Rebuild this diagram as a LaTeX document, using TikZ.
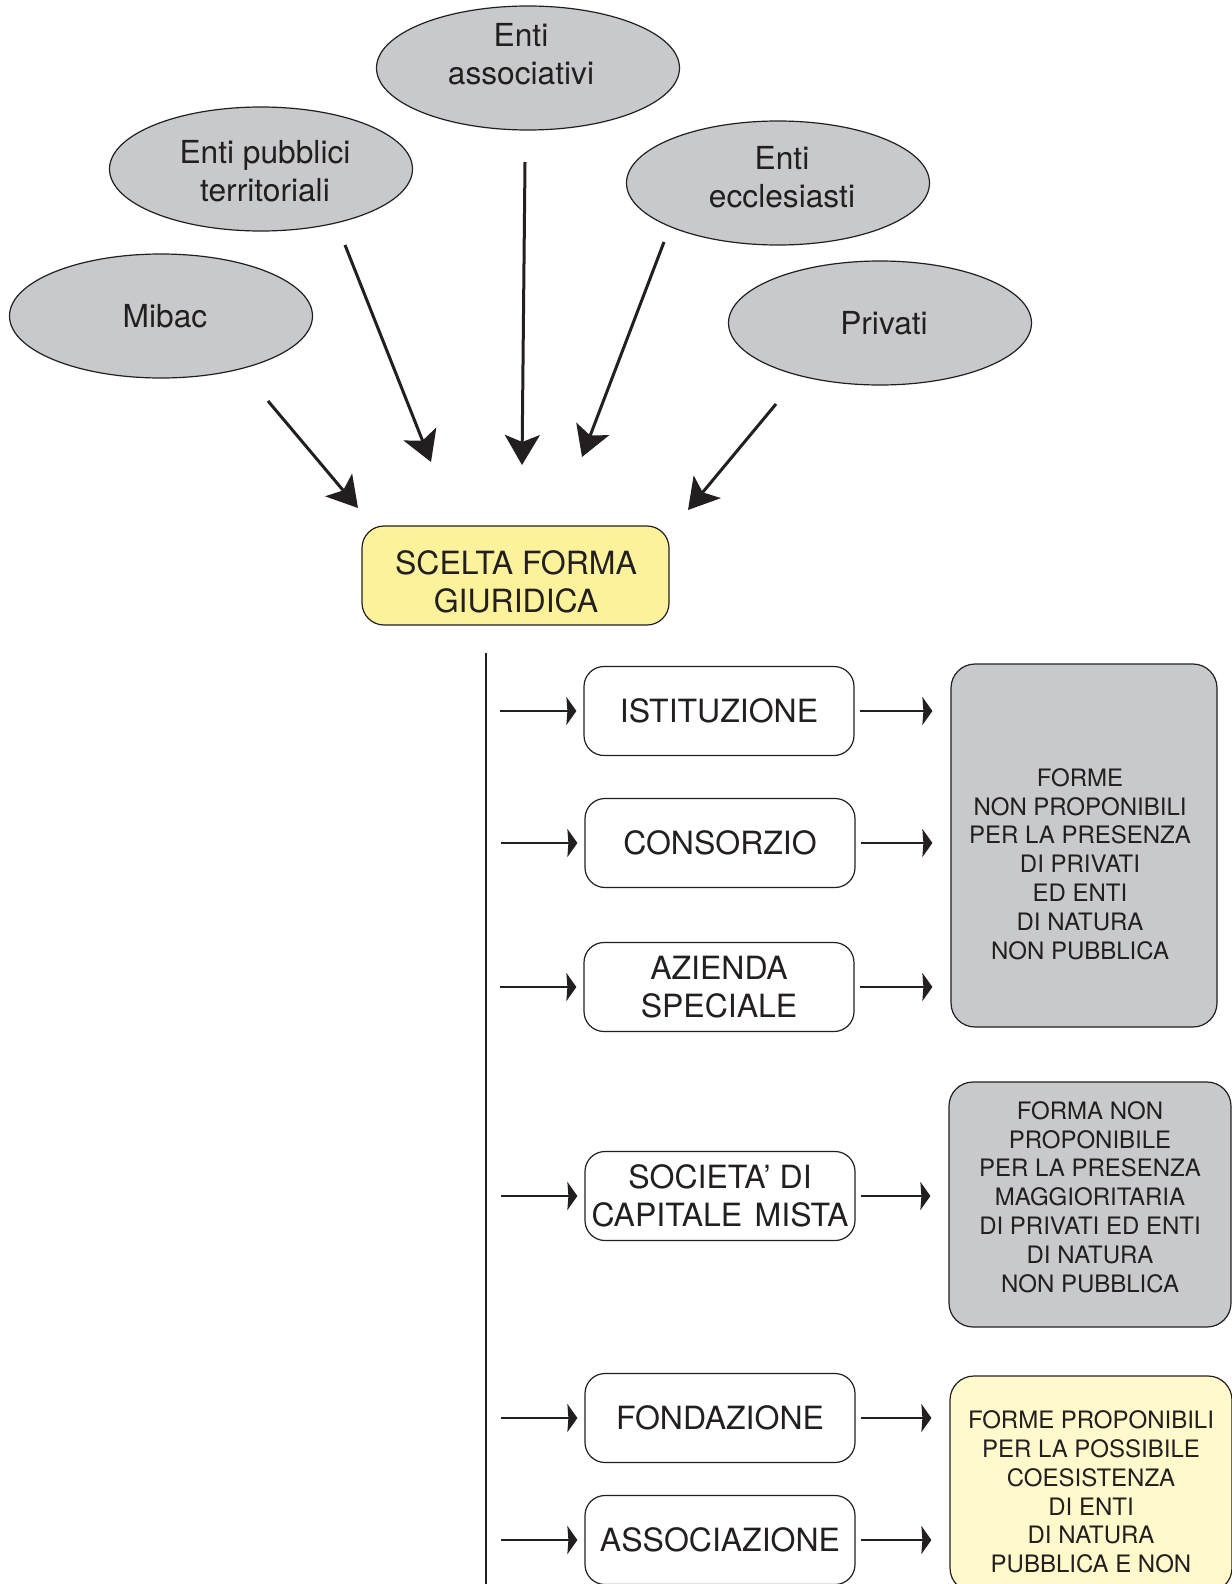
\documentclass[tikz,border=0pt]{standalone}
\usepackage{fontspec}
\setmainfont{TeX Gyre Heros}
\usetikzlibrary{arrows.meta,shapes.geometric,calc}
\definecolor{ink}{HTML}{231F20}
\definecolor{ellgray}{HTML}{C8C9CB}
\definecolor{boxgray}{HTML}{C8C9CB}
\definecolor{ylw}{HTML}{FCF29C}
\definecolor{lylw}{HTML}{FFF9CB}
\begin{document}
\begin{tikzpicture}[x=1pt,y=-1pt,
  ell/.style={ellipse, draw=ink, line width=1.2pt, fill=ellgray, minimum width=303pt, minimum height=124pt, inner sep=0pt},
  etext/.style={text=ink, font=\fontsize{31.7}{37.5}\selectfont, align=center, inner sep=0pt},
  opt/.style={rounded corners=20pt, draw=ink, line width=1.2pt, fill=white, minimum width=270pt, minimum height=89pt, text=ink, font=\fontsize{32}{37.5}\selectfont, align=center, inner sep=0pt},
  note/.style={rounded corners=24pt, draw=ink, line width=1.2pt, inner sep=0pt},
  ntext/.style={text=ink, font=\fontsize{24}{28.8}\selectfont, align=center, inner sep=0pt},
  barr/.style={draw=ink, line width=3pt, -{Stealth[length=30pt,width=35pt,inset=7pt]}},
  sarr/.style={draw=ink, line width=2pt, -{Stealth[length=10pt,width=28pt,inset=1pt]}}
]
\useasboundingbox (0,0) rectangle (1231,1584);
\fill[white] (0,0) rectangle (1231,1584);

% ellipses
\node[ell] (ea) at (528,68) {};
\node[etext] at (521,54) {Enti\\associativi};
\node[ell] (ep) at (261,169) {};
\node[etext] at (265,171) {Enti pubblici\\territoriali};
\node[ell] (ee) at (778,183) {};
\node[etext] at (782,177) {Enti\\ecclesiasti};
\node[ell] (mb) at (161,316) {};
\node[etext] at (165,316) {Mibac};
\node[ell] (pr) at (880,323) {};
\node[etext] at (884,323) {Privati};

% central box
\node[rounded corners=22pt, draw=ink, line width=1.2pt, fill=ylw, minimum width=307pt, minimum height=99pt, inner sep=0pt] (sc) at (515.5,575.5) {};
\node[etext, font=\fontsize{32}{37.5}\selectfont] at (516,582) {SCELTA FORMA\\GIURIDICA};

% big arrows
\coordinate (mbS) at (268,401);  \coordinate (mbE) at (358,508);
\coordinate (epS) at (345,245);  \coordinate (epE) at (431,462);
\coordinate (eaS) at (525,162);  \coordinate (eaE) at (522,465);
\coordinate (eeS) at (664,242);  \coordinate (eeE) at (582,457);
\coordinate (prS) at (776,404);  \coordinate (prE) at (688,510);
\draw[barr] (mbS) -- (mbE);
\draw[barr] (epS) -- (epE);
\draw[barr] (eaS) -- (eaE);
\draw[barr] (eeS) -- (eeE);
\draw[barr] (prS) -- (prE);

% vertical line
\coordinate (vtop) at (486,653);
\coordinate (vbot) at (486,1584);
\draw[ink, line width=1.5pt] (vtop) -- (vbot);

% option boxes
\node[opt] (ist) at (719,711) {ISTITUZIONE};
\node[opt] (con) at (720,843) {CONSORZIO};
\node[opt] (az) at (719,987) {AZIENDA\\SPECIALE};
\node[opt] (soc) at (720,1196) {SOCIETA’ DI\\CAPITALE\hspace{12.5pt}MISTA};
\node[opt] (fon) at (720,1418) {FONDAZIONE};
\node[opt] (ass) at (720,1540) {ASSOCIAZIONE};

% note boxes
\node[note, fill=boxgray, minimum width=266pt, minimum height=363pt] (g1) at (1084,845.5) {};
\node[ntext] at (1080,864) {FORME\\NON PROPONIBILI\\PER LA PRESENZA\\DI PRIVATI\\ED ENTI\\DI NATURA\\NON PUBBLICA};
\node[note, fill=boxgray, minimum width=282pt, minimum height=245pt] (g2) at (1090,1204.5) {};
\node[ntext] at (1090,1197) {FORMA NON\\PROPONIBILE\\PER LA PRESENZA\\MAGGIORITARIA\\DI PRIVATI ED ENTI\\DI NATURA\\NON PUBBLICA};
\node[note, fill=lylw, minimum width=282pt, minimum height=216pt] (g3) at (1091,1484) {};
\node[ntext] at (1091,1492) {FORME PROPONIBILI\\PER LA POSSIBILE\\COESISTENZA\\DI ENTI\\DI NATURA\\PUBBLICA E NON};

% left arrows
\foreach \b in {ist,con,az,soc,fon,ass}{
  \coordinate (l\b) at ($(\b.west)+(-83,0)$);
  \draw[sarr, shorten >=7pt] (l\b) -- (\b.west);
}
% right arrows
\foreach \b/\g in {ist/g1,con/g1,az/g1,soc/g2,fon/g3,ass/g3}{
  \draw[sarr, shorten <=5pt, shorten >=18pt] (\b.east) -- (\b.east -| \g.west);
}
\end{tikzpicture}
\end{document}
